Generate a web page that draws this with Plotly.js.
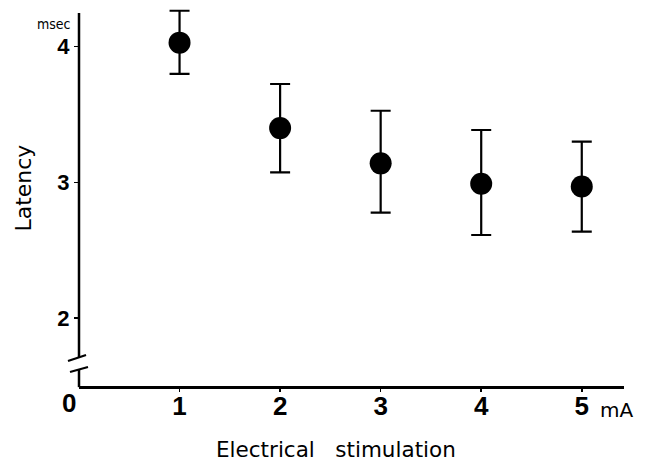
<!DOCTYPE html>
<html>
<head>
<meta charset="utf-8">
<script src="https://cdn.plot.ly/plotly-3.0.1.min.js"></script>
<style>html,body{margin:0;padding:0;background:#fff;}#chart{width:651px;height:465px;}</style>
</head>
<body>
<div id="chart"></div>
<script>
// Data
const stimulation = [1, 2, 3, 4, 5];                 // mA
const latency     = [4.03, 3.40, 3.14, 2.99, 2.97];  // msec
const upperBar    = [4.265, 3.725, 3.528, 3.386, 3.30];
const lowerBar    = [3.80, 3.074, 2.777, 2.612, 2.637];
const xTickVals   = [1, 2, 3, 4, 5];
const xTickText   = ['1', '2', '3', '4', '5'];
const yTickVals   = [2, 3, 4];
const yTickText   = ['2', '3', '4'];

const errPlus  = upperBar.map((u, i) => u - latency[i]);
const errMinus = latency.map((v, i) => v - lowerBar[i]);

const trace = {
  x: stimulation,
  y: latency,
  type: 'scatter',
  mode: 'markers',
  marker: {color: '#000', size: 22},
  error_y: {type: 'data', symmetric: false, array: errPlus, arrayminus: errMinus,
            color: '#000', thickness: 2.2, width: 10},
  cliponaxis: false,
  showlegend: false,
  hoverinfo: 'skip'
};

const boldSans = 'Liberation Sans, Arial, sans-serif';
const textSans = 'DejaVu Sans, sans-serif';

const layout = {
  width: 651, height: 465,
  margin: {l: 79, r: 27, t: 6, b: 79},
  paper_bgcolor: '#fff', plot_bgcolor: '#fff',
  xaxis: {
    range: [0, 5.42], showgrid: false, zeroline: false,
    showline: true, linecolor: '#000', linewidth: 2.5,
    ticks: 'outside', ticklen: 3, tickwidth: 1.5, tickcolor: '#000',
    ticklabelstandoff: -8,
    tickvals: xTickVals, ticktext: xTickText,
    tickfont: {family: boldSans, size: 26, color: '#000', weight: 'bold'}
  },
  yaxis: {
    range: [1.499, 4.30], showgrid: false, zeroline: false,
    showline: false,
    ticks: 'outside', ticklen: 4, tickwidth: 1.5, tickcolor: '#000',
    tickvals: yTickVals, ticktext: yTickText,
    tickfont: {family: boldSans, size: 22, color: '#000', weight: 'bold'}
  },
  shapes: [
    // y axis line with a break
    {type: 'line', xref: 'paper', yref: 'paper', x0: 0, x1: 0, y0: -0.003, y1: 0.0447,
     line: {color: '#000', width: 2.5}},
    {type: 'line', xref: 'paper', yref: 'paper', x0: 0, x1: 0, y0: 0.0763, y1: 0.9816,
     line: {color: '#000', width: 2.5}},
    // break marks
    {type: 'line', xref: 'paper', yref: 'paper', x0: -0.0202, y0: 0.0658, x1: 0.0129, y1: 0.0816,
     line: {color: '#000', width: 2.2}},
    {type: 'line', xref: 'paper', yref: 'paper', x0: -0.0165, y0: 0.0368, x1: 0.0165, y1: 0.0500,
     line: {color: '#000', width: 2.2}}
  ],
  annotations: [
    {text: '0', xref: 'paper', yref: 'paper', x: -0.018, y: -0.046, xanchor: 'center', yanchor: 'middle',
     showarrow: false, font: {family: boldSans, size: 26, color: '#000', weight: 'bold'}},
    {text: 'mA', xref: 'paper', yref: 'paper', x: 0.9528, y: -0.063, xanchor: 'left', yanchor: 'middle',
     showarrow: false, font: {family: textSans, size: 20, color: '#000'}},
    {text: 'msec', xref: 'paper', yref: 'paper', x: -0.0459, y: 0.9526, xanchor: 'center', yanchor: 'middle',
     showarrow: false,
     font: {family: 'Liberation Sans Narrow, DejaVu Sans Condensed, sans-serif', size: 14, color: '#000'}},
    {text: 'Latency', xref: 'paper', yref: 'paper', x: -0.101, y: 0.522, xanchor: 'center', yanchor: 'middle',
     textangle: -90, showarrow: false, font: {family: textSans, size: 22, color: '#000'}},
    {text: 'Electrical&nbsp;&nbsp;&nbsp;stimulation', xref: 'paper', yref: 'paper', x: 0.472, y: -0.166,
     xanchor: 'center', yanchor: 'middle', showarrow: false,
     font: {family: textSans, size: 21.5, color: '#000'}}
  ]
};

Plotly.newPlot('chart', [trace], layout, {staticPlot: true, displayModeBar: false});
</script>
</body>
</html>
